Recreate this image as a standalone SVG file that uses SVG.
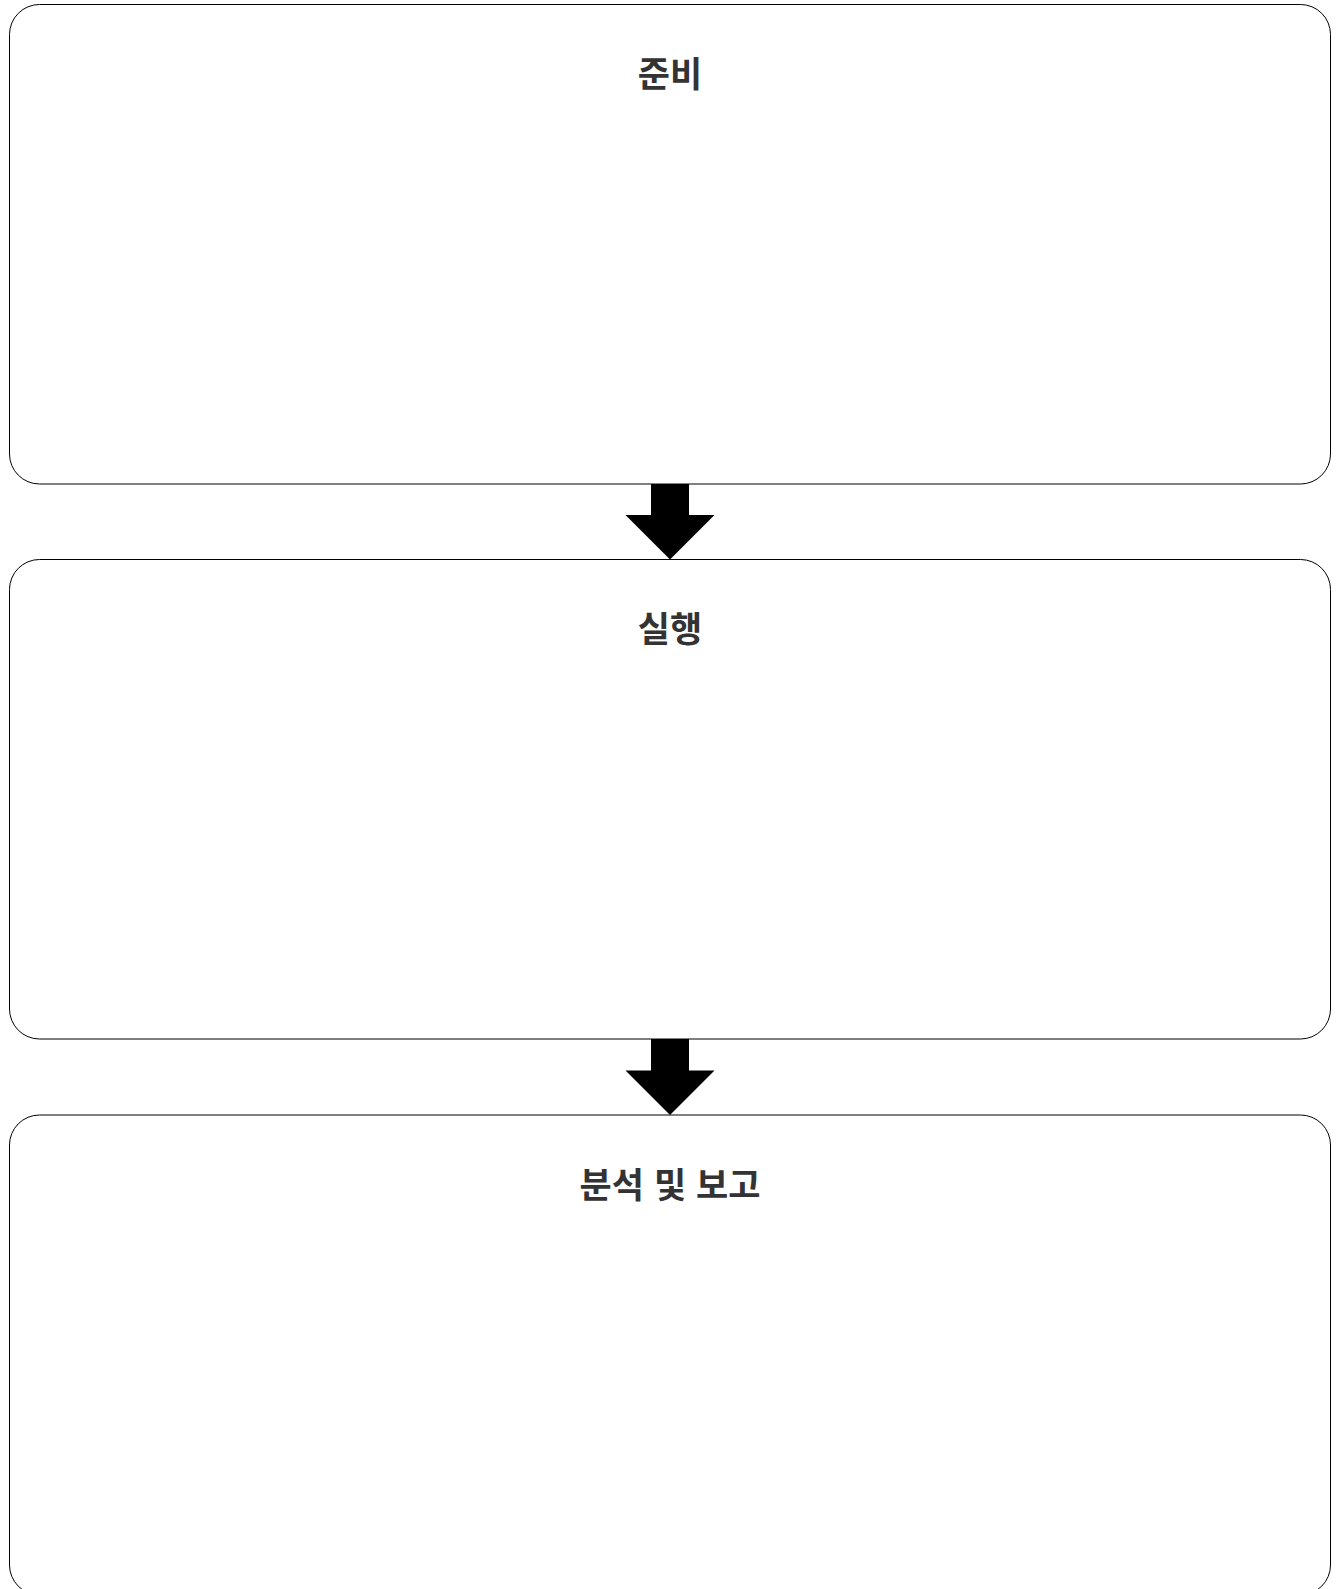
<svg xmlns="http://www.w3.org/2000/svg" width="1336" height="1589" viewBox="0 0 1336 1589">
<style>
.box{fill:#fff;stroke:#000;stroke-width:1}
.lbl{font-family:"Noto Sans CJK KR","Noto Sans",sans-serif;font-weight:bold;font-size:35px;fill:#333;text-anchor:middle}
.arr{fill:#000;stroke:none}
</style>
<rect width="1336" height="1589" fill="#fff"/>
<g id="node-prep">
<rect class="box" x="9.5" y="4.5" width="1321" height="479.5" rx="30" ry="30"/>
<text class="lbl" x="670" y="87">준비</text>
</g>
<g id="node-exec">
<rect class="box" x="9.5" y="559.5" width="1321" height="479.5" rx="30" ry="30"/>
<text class="lbl" x="670" y="642">실행</text>
</g>
<g id="node-report">
<rect class="box" x="9.5" y="1115" width="1321" height="480" rx="30" ry="30"/>
<text class="lbl" x="670" y="1198" word-spacing="2">분석 및 보고</text>
</g>
<g id="connectors">
<polygon class="arr" points="651,484 689,484 689,515 714.5,515 670,559.5 625.5,515 651,515"/>
<polygon class="arr" points="651,1039 689,1039 689,1070.5 714.5,1070.5 670,1115 625.5,1070.5 651,1070.5"/>
</g>
</svg>
